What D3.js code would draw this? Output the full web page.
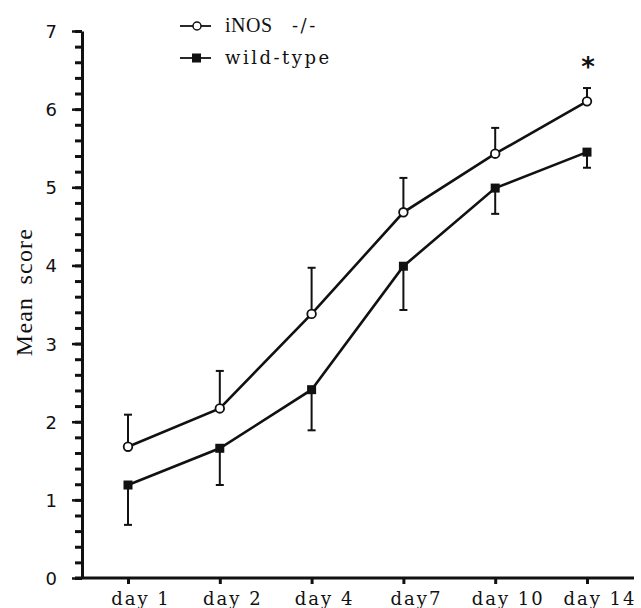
<!DOCTYPE html>
<html lang="en">
<head>
    <meta charset="UTF-8">
    <title>Mean score iNOS vs wild-type</title>
    <script src="https://d3js.org/d3.v7.min.js"></script>
    <style>
        body { margin: 0; background: #fff; }
        svg { display: block; }
        .ytick text { font-family: "DejaVu Sans", sans-serif; font-size: 18px; fill: #111; }
        .xlab { font-family: "DejaVu Serif", serif; font-size: 18px; letter-spacing: 2px; fill: #111; }
    </style>
</head>
<body>
    <div id="chart"></div>
    <script>
        // values
        const days = ["day 1", "day 2", "day 4", "day7", "day 10", "day 14"];
        const inosMean = [1.68, 2.17, 3.38, 4.68, 5.43, 6.10];
        const inosErr = [0.41, 0.48, 0.59, 0.44, 0.33, 0.17];
        const wtMean = [1.19, 1.66, 2.41, 3.99, 4.99, 5.45];
        const wtErr = [0.51, 0.47, 0.52, 0.56, 0.33, 0.20];
        const yTicks = [0, 1, 2, 3, 4, 5, 6, 7];
        const significant = ["day 14"];

        const width = 641, height = 608;

        const svg = d3.select("#chart")
            .append("svg")
            .attr("width", width)
            .attr("height", height);

        const x = d3.scalePoint().domain(days).range([128, 587]);
        const y = d3.scaleLinear().domain([0, 7]).range([578, 31]);

        // y axis: minor ticks every 0.2, major ticks with labels
        const minor = d3.range(0, 7.001, 0.2).map(v => +v.toFixed(1));
        svg.append("g")
            .attr("class", "yminor")
            .attr("transform", "translate(82,0)")
            .call(d3.axisLeft(y).tickValues(minor).tickSize(7).tickSizeOuter(0).tickFormat(() => ""))
            .call(g => g.select(".domain").remove())
            .call(g => g.selectAll(".tick line").attr("stroke", "#111").attr("stroke-width", 3));

        svg.append("g")
            .attr("class", "ytick")
            .attr("transform", "translate(82,0)")
            .call(d3.axisLeft(y).tickValues(yTicks).tickSize(10).tickSizeOuter(0)
                .tickPadding(15).tickFormat(d3.format("d")))
            .call(g => g.select(".domain").attr("stroke", "#111").attr("stroke-width", 3))
            .call(g => g.selectAll(".tick line").attr("stroke", "#111").attr("stroke-width", 2.5))
            .call(g => g.selectAll("text").attr("dy", "0.36em"));

        // x axis
        const xg = svg.append("g")
            .attr("transform", `translate(0,${y(0)})`)
            .call(d3.axisBottom(x).tickSize(6).tickSizeOuter(0).tickFormat(() => ""))
            .call(g => g.select(".domain").remove())
            .call(g => g.selectAll(".tick line").attr("stroke", "#111").attr("stroke-width", 3));
        xg.append("line")
            .attr("x1", 75).attr("x2", 634)
            .attr("stroke", "#111").attr("stroke-width", 3);

        svg.selectAll("text.xlab")
            .data(days)
            .enter().append("text")
            .attr("class", "xlab")
            .attr("x", d => x(d) + 13)
            .attr("y", 605)
            .attr("text-anchor", "middle")
            .text(d => d);

        // y title
        svg.append("text")
            .attr("transform", `translate(32,${y(3.66)}) rotate(-90)`)
            .attr("text-anchor", "middle")
            .style("font-family", "'Liberation Serif', serif")
            .style("font-size", "24px")
            .style("letter-spacing", "1.2px")
            .style("word-spacing", "5px")
            .style("fill", "#111")
            .text("Mean score");

        const line = d3.line()
            .x((d, i) => x(days[i]))
            .y(d => y(d));

        // error bars: iNOS upward, wild-type downward
        function errorBars(means, errs, dir, cls) {
            const g = svg.append("g").attr("class", cls)
                .attr("stroke", "#111").attr("stroke-width", 2);
            g.selectAll("line.v")
                .data(means)
                .enter().append("line")
                .attr("class", "v")
                .attr("x1", (d, i) => x(days[i])).attr("x2", (d, i) => x(days[i]))
                .attr("y1", d => y(d)).attr("y2", (d, i) => y(d + dir * errs[i]));
            g.selectAll("line.c")
                .data(means)
                .enter().append("line")
                .attr("class", "c")
                .attr("x1", (d, i) => x(days[i]) - 4).attr("x2", (d, i) => x(days[i]) + 4)
                .attr("y1", (d, i) => y(d + dir * errs[i])).attr("y2", (d, i) => y(d + dir * errs[i]));
        }
        errorBars(inosMean, inosErr, 1, "err-inos");
        errorBars(wtMean, wtErr, -1, "err-wt");

        svg.append("path")
            .datum(inosMean)
            .attr("d", line)
            .attr("fill", "none").attr("stroke", "#111").attr("stroke-width", 2.6);
        svg.append("path")
            .datum(wtMean)
            .attr("d", line)
            .attr("fill", "none").attr("stroke", "#111").attr("stroke-width", 2.6);

        svg.selectAll("circle.inos")
            .data(inosMean)
            .enter().append("circle")
            .attr("class", "inos")
            .attr("cx", (d, i) => x(days[i]))
            .attr("cy", d => y(d))
            .attr("r", 4.3)
            .attr("fill", "#fff").attr("stroke", "#111").attr("stroke-width", 1.8);

        svg.selectAll("rect.wt")
            .data(wtMean)
            .enter().append("rect")
            .attr("class", "wt")
            .attr("x", (d, i) => x(days[i]) - 4.5)
            .attr("y", d => y(d) - 4.5)
            .attr("width", 9).attr("height", 9)
            .attr("fill", "#111");

        // significance marker
        svg.selectAll("text.star")
            .data(significant)
            .enter().append("text")
            .attr("class", "star")
            .attr("x", d => x(d) + 1)
            .attr("y", d => y(inosMean[days.indexOf(d)] + inosErr[days.indexOf(d)]) - 12)
            .attr("text-anchor", "middle")
            .style("font-family", "'DejaVu Sans', sans-serif")
            .style("font-size", "26px")
            .style("font-weight", "bold")
            .style("fill", "#111")
            .text("*");

        // legend
        const legend = svg.append("g").attr("transform", "translate(180,0)");
        const rows = [{ label: "iNOS", y: 26 }, { label: "wild-type", y: 58 }];
        rows.forEach((r, k) => {
            legend.append("line")
                .attr("x1", 0).attr("x2", 31).attr("y1", r.y).attr("y2", r.y)
                .attr("stroke", "#111").attr("stroke-width", 1.8);
            const t = legend.append("text")
                .attr("x", 45).attr("y", r.y)
                .attr("dy", "0.35em")
                .style("fill", "#111");
            if (k === 0) {
                legend.append("circle").attr("cx", 17).attr("cy", r.y).attr("r", 4)
                    .attr("fill", "#fff").attr("stroke", "#111").attr("stroke-width", 1.5);
                t.append("tspan")
                    .style("font-family", "'Liberation Serif', serif")
                    .style("font-size", "20px")
                    .style("letter-spacing", "0.5px")
                    .text(r.label);
                t.append("tspan")
                    .attr("x", 112)
                    .style("font-family", "'DejaVu Serif', serif")
                    .style("font-size", "18px")
                    .style("letter-spacing", "2.5px")
                    .text("-/-");
            } else {
                legend.append("rect").attr("x", 12).attr("y", r.y - 4.5).attr("width", 9).attr("height", 9)
                    .attr("fill", "#111");
                t.style("font-family", "'DejaVu Serif', serif")
                    .style("font-size", "18px")
                    .style("letter-spacing", "2.5px")
                    .text(r.label);
            }
        });
    </script>
</body>
</html>
